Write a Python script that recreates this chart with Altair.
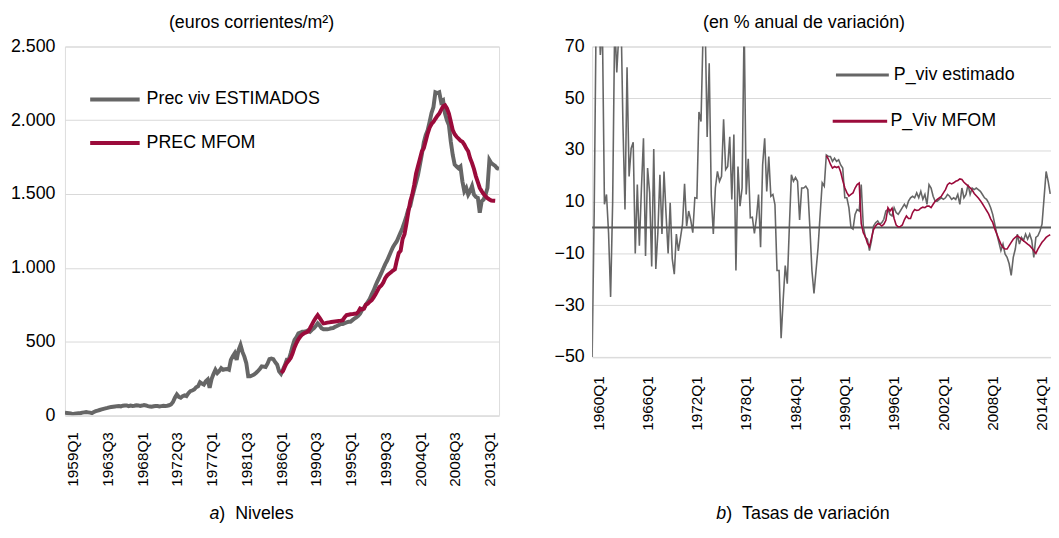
import altair as alt
import pandas as pd

FONT = "Liberation Sans"
GRAY = "#666666"
RED = "#9B0B3B"
GRID = "#D9D9D9"
INK = "#000000"

# ---------------- data ----------------
# a) Niveles, euros corrientes/m2, quarterly from 1959Q1
levels_est = [
    18, 16, 14, 12, 8, 10, 12, 14, 14, 18, 20, 22, 20, 18, 15, 22,
    28, 32, 36, 40, 44, 47, 50, 54, 56, 58, 60, 62, 63, 60, 65, 67,
    67, 62, 66, 63, 65, 68, 67, 64, 66, 69, 67, 62, 60, 58, 61, 63,
    63, 60, 62, 64, 63, 65, 68, 74, 90, 119, 141, 125, 119, 130, 135, 130,
    150, 164, 168, 175, 190, 197, 224, 215, 208, 230, 242, 186, 246, 280, 309, 287,
    300, 320, 309, 312, 314, 309, 376, 400, 421, 376, 443, 477, 430, 398, 354, 264,
    264, 270, 276, 287, 300, 314, 332, 330, 327, 350, 381, 385, 381, 360, 343, 298,
    282, 310, 340, 376, 376, 420, 470, 511, 530, 556, 560, 567, 567, 570, 575, 567,
    580, 590, 605, 623, 610, 590, 583, 583, 583, 586, 590, 592, 600, 605, 612, 619,
    619, 625, 630, 634, 634, 645, 655, 664, 675, 690, 713, 730, 750, 770, 790, 820,
    847, 880, 910, 937, 965, 995, 1025, 1049, 1080, 1110, 1140, 1161, 1180, 1210, 1240, 1272,
    1310, 1350, 1396, 1420, 1480, 1530, 1580, 1631, 1700, 1770, 1850, 1900, 1933, 1989, 2050, 2090,
    2190, 2185, 2190, 2123, 2134, 2045, 2000, 1967, 1855, 1765, 1700, 1687, 1675, 1687, 1586, 1519,
    1541, 1496, 1520, 1553, 1496, 1480, 1474, 1373, 1451, 1463, 1496, 1541, 1731, 1709, 1700, 1690,
    1675, 1670,
]
# MFOM levels, quarterly from 1987Q1
levels_mfom = [
    287, 300, 330, 355, 372, 389, 420, 460, 490, 515, 534, 548, 556, 562, 567, 590,
    615, 640, 660, 679, 660, 640, 623, 625, 628, 630, 632, 634, 636, 638, 640, 642,
    645, 665, 679, 682, 685, 686, 688, 690, 700, 724, 718, 723, 750, 757, 770, 780,
    800, 820, 845, 869, 880, 900, 930, 948, 959, 970, 981, 990, 1050, 1100, 1116, 1195,
    1228, 1300, 1380, 1452, 1496, 1560, 1640, 1690, 1740, 1790, 1810, 1860, 1910, 1950, 1975, 1989,
    2010, 2030, 2045, 2070, 2095, 2101, 2080, 2045, 1990, 1933, 1905, 1888, 1875, 1862, 1855, 1835,
    1810, 1790, 1743, 1710, 1670, 1620, 1580, 1541, 1520, 1500, 1485, 1472, 1463, 1456, 1455, 1454,
]
# b) Tasas de variacion (% anual), quarterly from 1960Q1
growth_est = [
    -50, 5.5, 85, 90, 66.7, 78, 9, 12.8, -2, -26.8, 10, 80, 60, 75, 85, 40,
    7, 62, 19.8, 30.6, 33, -10, 16.6, -7, 15, 34.5, -11, 23, 13.4, -15, 30.4, -16,
    -2, 20.4, -2.5, 21.7, 5, -10, 9.6, -12, -18, -2.5, -9, -4, 1.3, 16.9, 0.6, 6.4,
    3, -2, 11.5, 11.3, 44.7, 41, 75, 80, 35, 63.5, 12.4, -2.5, 15.3, 21.7, 17.9, 19.8,
    41.9, 22.4, 23.6, 35.1, 10.9, 36, -16.6, 23.6, 8.3, 15.3, 80, 12.8, 26.6, 3.8, 4, -2.3,
    3.8, 12.8, -7.6, 24.2, 34.5, 14, 27.5, 12.1, 12.8, 8.9, -16.6, -16.6, -42.8, -28, -14.7, -21.7,
    0, 20.4, 17.9, 19.4, 17.9, 2.9, 15.3, 15.3, 16, 14.7, 0, -16.6, -25.5, -16.6, -7.6, 5.1,
    17.3, 16, 28.1, 27.5, 27.5, 25.6, 26.8, 25.6, 26.2, 24.2, 23, 11.5, 11.5, 7.7, 0, -0.6,
    5.1, 7, 6.4, 16.6, 0.6, -3.8, -4.5, -8.9, -5, 0.6, 1.9, 2.6, 1.3, 1.9, 3.2, 6.4,
    7, 5.1, 4.5, 7.7, 5.8, 5.1, 6.4, 7.7, 9, 7.7, 10.2, 11.5, 12.1, 11.5, 13.4, 11.5,
    14, 10.9, 12.8, 9, 16.6, 15.3, 12.1, 10.2, 10.2, 10.9, 11.5, 10.9, 11.5, 12.8, 12.1, 10.9,
    11.5, 10.9, 12.8, 9, 15.3, 11.5, 12.8, 16.6, 12.8, 15.3, 14.7, 15.3, 14.7, 14, 12.8, 11.5,
    10.9, 9.6, 7.7, 5.1, 1.3, -2.5, -5.7, -8.9, -6.4, -10.2, -11.5, -14, -18.5, -11.5, -8.3, -2.5,
    -6.4, -3.8, -5, -2.5, -4.5, -2.5, -5, -11.5, -3.8, -3.2, -1.3, 1.3, 11.5, 21.7, 17.9, 13,
]
# MFOM growth, quarterly from 1988Q3
growth_mfom = [
    27.8, 26.5, 24.5, 23, 23.6, 23.2, 23.6, 21.5, 18.2, 15.4, 13.5, 12.2, 12.8, 13.4, 15.3, 16.6,
    17.2, 1.5, -2, -3.5, -6, -7.4, -4, -0.8, 0.6, 1.5, 1.3, 0.6, 1.3, 2.8, 7.7, 6.4,
    7.5, 3.5, 1, 0.3, 0.4, 1, 3, 4.5, 3.5, 3.5, 5.8, 7, 6.6, 6.8, 7.5, 7.9,
    7.7, 8.3, 8.3, 7.7, 9, 10.2, 10.9, 11.5, 12.1, 13.4, 14.7, 16.6, 17.3, 16.9, 17.3, 17.9,
    18.2, 18.8, 18.6, 17.5, 16.8, 16.1, 15.4, 14.5, 13.2, 12.3, 11.4, 10.4, 9.2, 7.9, 6.6, 5.3,
    3.4, 2, -0.5, -2.5, -4.5, -6.4, -7.7, -8.3, -8.3, -7, -5.7, -4.5, -3.8, -3.2, -3.8, -4.5,
    -5.1, -5.7, -6.4, -7, -7.9, -8.9, -10, -8.3, -7, -5.7, -4.8, -3.8, -3.2, -2.8,
]

LEFT_SERIES = ["Prec viv ESTIMADOS", "PREC MFOM"]
RIGHT_SERIES = ["P_viv estimado", "P_Viv MFOM"]
LEFT_TITLE = "(euros corrientes/m\u00b2)"
RIGHT_TITLE = "(en % anual de variaci\u00f3n)"
LEFT_TICKS = list(range(0, 217, 18))      # 1959Q1, 1963Q3, ... 2013Q1
RIGHT_TICKS = list(range(0, 217, 24))     # 1960Q1, 1966Q1, ... 2014Q1
LEFT_Y = [0, 500, 1000, 1500, 2000, 2500]
RIGHT_Y = [-50, -30, -10, 10, 30, 50, 70]


def frame(values, year0, offset, name):
    rows = []
    for i, v in enumerate(values):
        t = offset + i
        rows.append({"t": t, "v": v, "periodo": f"{year0 + t // 4}Q{t % 4 + 1}", "serie": name})
    return pd.DataFrame(rows)


lev_est_df = frame(levels_est, 1959, 0, LEFT_SERIES[0])
lev_mfom_df = frame(levels_mfom, 1959, 112, LEFT_SERIES[1])
gr_est_df = frame(growth_est, 1960, 0, RIGHT_SERIES[0])
gr_mfom_df = frame(growth_mfom, 1960, 114, RIGHT_SERIES[1])
one = pd.DataFrame({"k": [0]})


def txt(x, y, text, size=18, align="left", baseline="middle", style="normal"):
    return alt.Chart(one).mark_text(
        font=FONT, fontSize=size, color=INK, align=align, baseline=baseline, fontStyle=style
    ).encode(x=alt.value(x), y=alt.value(y), text=alt.value(text))


def seg(x1, x2, y, color, width):
    return alt.Chart(one).mark_rule(color=color, strokeWidth=width).encode(
        x=alt.value(x1), x2=alt.value(x2), y=alt.value(y)
    )


def x_axis(year0, ticks, offset, pad):
    return alt.Axis(
        values=ticks,
        labelExpr=f"toString({year0} + floor(datum.value / 4)) + 'Q' + toString(datum.value % 4 + 1)",
        labelAngle=270, labelAlign="right", labelBaseline="middle",
        labelOffset=offset, labelPadding=pad, labelFontSize=15.5, labelFont=FONT,
        labelColor=INK, labelFlush=False, labelOverlap=False,
        ticks=False, domain=False, grid=False, title=None,
    )


def y_axis(vals, expr, pad):
    kw = dict(
        values=vals, grid=True, gridColor=GRID, gridWidth=1, ticks=False, domain=False,
        labelPadding=pad, labelFontSize=18, labelFont=FONT, labelColor=INK,
        labelFlush=False, labelOverlap=False, title=None,
    )
    if expr:
        kw["labelExpr"] = expr
    return alt.Axis(**kw)


# ---------------- left panel ----------------
LW, LH = 438.5, 372.5
lx = alt.X("t:Q", scale=alt.Scale(domain=[0, 225], nice=False, zero=False),
           axis=x_axis(1959, LEFT_TICKS, 8, 16.5))
ly = alt.Y("v:Q", scale=alt.Scale(domain=[0, 2500], nice=False),
           axis=y_axis(LEFT_Y, "replace(format(datum.value, ','), ',', '.')", 10))

CAP_Y = 477.5

left = alt.layer(
    alt.Chart(lev_est_df).mark_line(color=GRAY, strokeWidth=4, clip=True).encode(x=lx, y=ly),
    alt.Chart(lev_mfom_df).mark_line(color=RED, strokeWidth=4, clip=True).encode(x=lx, y=ly),
    seg(25.5, 75.5, 53.5, GRAY, 4),
    txt(82.5, 53.5, LEFT_SERIES[0]),
    seg(25.5, 75.5, 97.5, RED, 4),
    txt(82.5, 97.5, LEFT_SERIES[1]),
    txt(188.5, -19, LEFT_TITLE, align="center", baseline="alphabetic"),
    txt(146, CAP_Y, "a", baseline="alphabetic", style="italic"),
    txt(156, CAP_Y, ")\u00a0\u00a0Niveles", baseline="alphabetic"),
).properties(width=LW, height=LH)

# ---------------- right panel ----------------
RW, RH = 470, 313.5
rx = alt.X("t:Q", scale=alt.Scale(domain=[0, RW / 2.075], nice=False, zero=False),
           axis=x_axis(1960, RIGHT_TICKS, 6, 19))
ry = alt.Y("v:Q", scale=alt.Scale(domain=[-50, 70], nice=False, zero=False),
           axis=y_axis(RIGHT_Y, None, 8))

right = alt.layer(
    alt.Chart(gr_est_df).mark_line(color=GRAY, strokeWidth=1.6, clip=True).encode(x=rx, y=ry),
    alt.Chart(one).mark_rule(color="#595959", strokeWidth=2).encode(y=alt.datum(0)),
    alt.Chart(gr_mfom_df).mark_line(color=RED, strokeWidth=1.6, clip=True).encode(x=rx, y=ry),
    seg(246.3, 299.7, 28.8, GRAY, 3),
    txt(304.7, 28.8, RIGHT_SERIES[0]),
    seg(243, 298, 75.5, RED, 3),
    txt(301.3, 75.5, RIGHT_SERIES[1]),
    txt(214, -19, RIGHT_TITLE, align="center", baseline="alphabetic"),
    txt(125.5, CAP_Y, "b", baseline="alphabetic", style="italic"),
    txt(135.5, CAP_Y, ")\u00a0\u00a0Tasas de variaci\u00f3n", baseline="alphabetic"),
).properties(width=RW, height=RH)

chart = alt.hconcat(
    left, right, spacing=93.5, bounds="flush",
    padding={"left": 1.5, "top": 2.3, "right": -8, "bottom": 0},
).configure_view(stroke=None).configure(background="white")

chart.save("out.html", embed_options={"renderer": "svg", "actions": False})
